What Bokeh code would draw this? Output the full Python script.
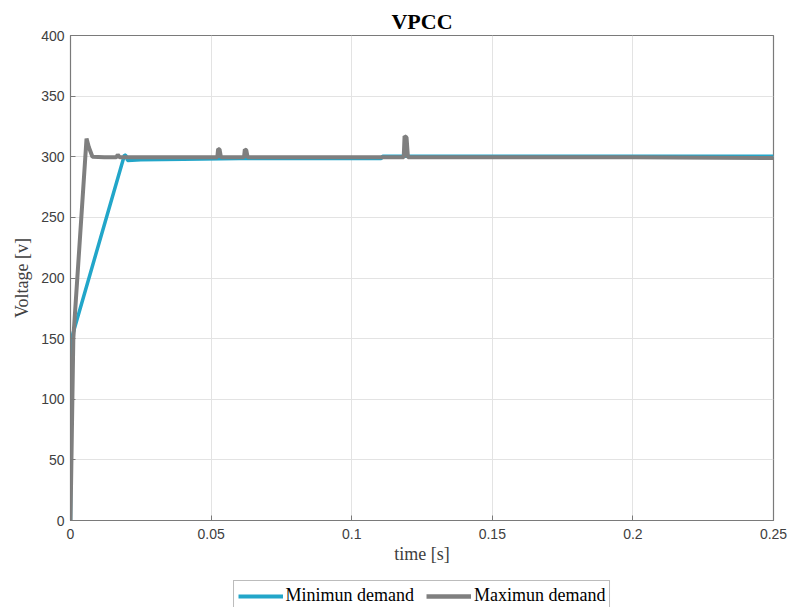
from bokeh.plotting import figure
from bokeh.models import Range1d, FixedTicker, Legend, LegendItem
from bokeh.layouts import column
from bokeh.embed import file_html
from bokeh.resources import INLINE

# Minimum demand (blue)
t_min = [0.0, 0.0003, 0.0006, 0.0192, 0.0197, 0.0203, 0.025, 0.04, 0.06, 0.08,
         0.1, 0.1105, 0.111, 0.15, 0.2, 0.25]
v_min = [0.0, 150.0, 152.0, 301.5, 301.0, 297.0, 297.5, 298.0, 298.5, 298.5,
         298.5, 298.5, 300.5, 300.5, 300.5, 300.5]

# Maximum demand (gray)
t_max = [0.0, 0.0010, 0.0057, 0.0065, 0.0078, 0.012, 0.0163, 0.0168, 0.0175,
         0.03, 0.0522, 0.0525, 0.0530, 0.0535, 0.0617, 0.0620, 0.0625, 0.0630,
         0.09, 0.1185, 0.1188, 0.1195, 0.1200, 0.15, 0.2, 0.25]
v_max = [0.0, 150.0, 315.0, 308.0, 300.0, 299.5, 299.5, 301.8, 299.5,
         299.5, 299.5, 306.5, 306.0, 299.5, 299.5, 306.0, 305.5, 299.5,
         299.5, 299.5, 317.0, 316.0, 299.5, 299.5, 299.5, 299.0]

x_ticks = [0, 0.05, 0.1, 0.15, 0.2, 0.25]
x_tick_labels = ["0", "0.05", "0.1", "0.15", "0.2", "0.25"]
y_ticks = [0, 50, 100, 150, 200, 250, 300, 350, 400]

series_labels = ["Minimun demand", "Maximun demand"]
series_colors = ["#22a6c9", "#7f7f7f"]
series_widths = [3.5, 4]

p = figure(width=789, height=578, output_backend="svg", toolbar_location=None,
           x_range=Range1d(0, 0.25), y_range=Range1d(0, 400),
           min_border_left=70, min_border_right=16, min_border_top=35,
           min_border_bottom=58)

p.title.text = "VPCC"
p.title.align = "center"
p.title.text_font = "Liberation Serif"
p.title.text_font_size = "22px"
p.title.text_font_style = "bold"
p.title.text_color = "#000000"
p.title.offset = 0
p.title.standoff = 4

p.background_fill_color = "white"
p.border_fill_color = "white"
p.outline_line_color = "#7a7a7a"
p.outline_line_width = 1.2

for ax in (p.xaxis[0], p.yaxis[0]):
    ax.major_tick_in = 5
    ax.major_tick_out = 0
    ax.minor_tick_line_color = None
    ax.axis_line_color = "#7a7a7a"
    ax.major_tick_line_color = "#7a7a7a"
    ax.major_label_text_font = "Liberation Sans"
    ax.major_label_text_font_size = "14px"
    ax.major_label_text_color = "#404040"
    ax.axis_label_text_font = "Liberation Serif"
    ax.axis_label_text_font_size = "18px"
    ax.axis_label_text_font_style = "normal"
    ax.axis_label_text_color = "#404040"

p.xaxis.ticker = FixedTicker(ticks=x_ticks)
p.xaxis.major_label_overrides = {t: l for t, l in zip(x_ticks, x_tick_labels)}
p.yaxis.ticker = FixedTicker(ticks=y_ticks)
p.xaxis.axis_label = "time [s]"
p.yaxis.axis_label = "Voltage [v]"
p.xaxis.major_label_standoff = 8
p.xaxis.axis_label_standoff = 2
p.yaxis.major_label_standoff = 6
p.yaxis.axis_label_standoff = 6

p.xgrid.grid_line_color = "#e3e3e3"
p.ygrid.grid_line_color = "#e3e3e3"

p.line(t_min, v_min, line_color=series_colors[0], line_width=series_widths[0])
p.line(t_max, v_max, line_color=series_colors[1], line_width=series_widths[1])

# legend strip below the plot
lg = figure(width=789, height=29, output_backend="svg", toolbar_location=None,
            x_axis_type=None, y_axis_type=None,
            x_range=Range1d(0, 1), y_range=Range1d(0, 1),
            min_border_left=0, min_border_right=0, min_border_top=0,
            min_border_bottom=0)
lg.outline_line_color = None
lg.xgrid.visible = False
lg.ygrid.visible = False
lg.background_fill_color = "white"
lg.border_fill_color = "white"
nan = float("nan")
d1 = lg.line(x=[nan], y=[nan], line_color=series_colors[0], line_width=4)
d2 = lg.line(x=[nan], y=[nan], line_color=series_colors[1], line_width=4.5)

legend = Legend(items=[LegendItem(label=series_labels[0], renderers=[d1]),
                       LegendItem(label=series_labels[1], renderers=[d2])],
                orientation="horizontal", location="top_center",
                label_text_font="Liberation Serif", label_text_font_size="18px",
                label_text_color="#000000",
                border_line_color="#7a7a7a", border_line_width=1.2,
                glyph_width=45, glyph_height=18, label_standoff=3,
                spacing=12, padding=4, margin=2,
                background_fill_color="white")
lg.add_layout(legend, "center")

open("out.html", "w").write(file_html(column(p, lg), INLINE))
